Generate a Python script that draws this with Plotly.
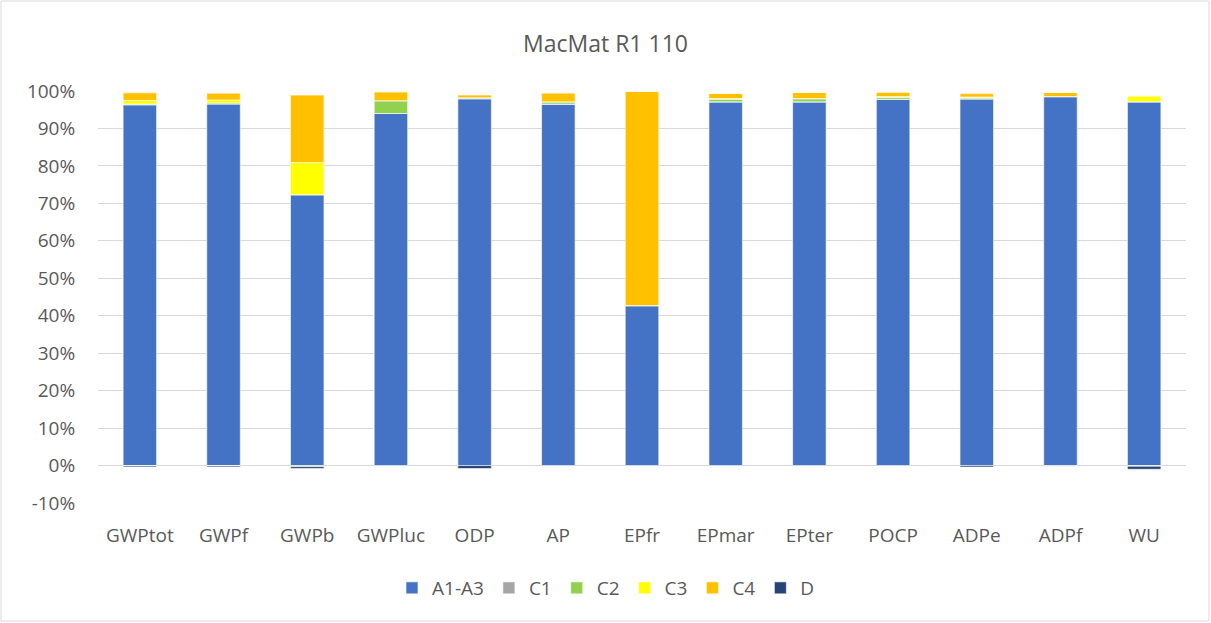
import plotly.graph_objects as go

categories = ["GWPtot", "GWPf", "GWPb", "GWPluc", "ODP", "AP", "EPfr", "EPmar", "EPter", "POCP", "ADPe", "ADPf", "WU"]

a1_a3 = [96.3, 96.5, 72.3, 94.0, 97.9, 96.5, 42.7, 97.1, 97.1, 97.8, 97.9, 98.5, 97.1]
c1 = [-0.1, -0.1, 0.0, 0.0, 0.3, 0.0, 0.0, 0.0, 0.0, 0.0, 0.0, -0.2, -0.2]
c2 = [0.2, 0.3, -0.3, 3.4, 0.0, 0.6, 0.0, 0.7, 0.8, 0.5, 0.3, 0.0, 0.0]
c3 = [1.0, 0.8, 8.6, 0.0, 0.0, 0.0, 0.0, 0.2, 0.1, 0.2, 0.2, 0.0, 1.6]
c4 = [2.0, 1.8, 18.0, 2.4, 0.7, 2.4, 57.2, 1.4, 1.6, 1.2, 0.9, 1.1, 0.0]
d = [-0.3, -0.3, -0.5, 0.0, -0.8, 0.0, 0.0, 0.0, 0.0, 0.0, -0.4, 0.0, -0.8]

series = [
    ("A1-A3", a1_a3, "#4472C4"),
    ("C1", c1, "#A5A5A5"),
    ("C2", c2, "#92D050"),
    ("C3", c3, "#FFFF00"),
    ("C4", c4, "#FFC000"),
    ("D", d, "#264478"),
]

tick_vals = [-10, 0, 10, 20, 30, 40, 50, 60, 70, 80, 90, 100]
tick_text = [f"{v}%" for v in tick_vals]

FONT = "'Open Sans', 'Noto Sans', sans-serif"
GREY = "#595959"

fig = go.Figure()
for name, vals, color in series:
    fig.add_trace(go.Bar(
        x=categories, y=vals, name=name,
        marker=dict(color=color, line=dict(color="rgba(255,255,255,0.6)", width=1)),
        width=0.4,
    ))

W, H = 1211, 623
L, R, T, B = 98, 25, 91, 120
pw, ph = W - L - R, H - T - B

fig.update_layout(
    barmode="relative",
    width=W, height=H,
    margin=dict(l=L, r=R, t=T, b=B),
    paper_bgcolor="white", plot_bgcolor="white",
    font=dict(family=FONT, color=GREY, size=18),
    title=dict(text="MacMat R1 110", x=0.5, xanchor="center", y=1 - 44 / H, yanchor="middle",
               font=dict(family=FONT, size=23, color=GREY)),
    xaxis=dict(showgrid=False, showline=False, ticks="outside", ticklen=15,
               tickcolor="rgba(0,0,0,0)", tickfont=dict(size=19, color=GREY)),
    yaxis=dict(range=[-10, 100], tickvals=tick_vals, ticktext=tick_text,
               showgrid=True, gridcolor="#D9D9D9", gridwidth=1,
               zeroline=True, zerolinecolor="#D9D9D9", zerolinewidth=1,
               showline=False, ticks="outside", ticklen=18, tickcolor="rgba(0,0,0,0)",
               tickfont=dict(size=19, color=GREY)),
    legend=dict(orientation="h", x=0.5 - 36 / pw, xanchor="center", y=(503 - 588) / ph, yanchor="middle",
                font=dict(size=19, color=GREY), traceorder="normal", itemwidth=30),
    bargap=0.6,
    shapes=[dict(type="rect", xref="paper", yref="paper",
                 x0=(1 - L) / pw, x1=(1209 - L) / pw,
                 y0=(503 - 621) / ph, y1=(503 - 1) / ph,
                 line=dict(color="#D9D9D9", width=1), fillcolor="rgba(0,0,0,0)", layer="below")],
)

fig.write_html("out.html", config={"displayModeBar": False},
               post_script="document.body.style.margin='0px';document.body.style.overflow='hidden';")
